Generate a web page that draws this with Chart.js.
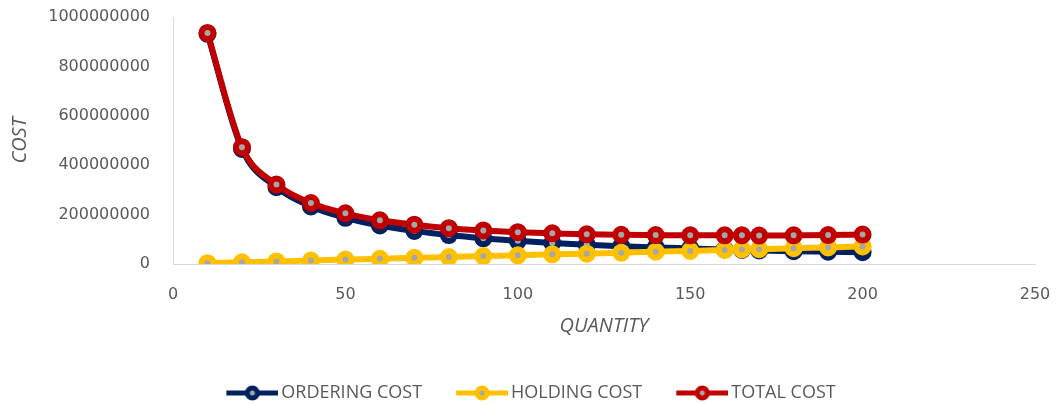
<!DOCTYPE html>
<html>
<head>
<meta charset="utf-8">
<title>Ordering / holding cost</title>
<script src="https://cdn.jsdelivr.net/npm/chart.js@4/dist/chart.umd.min.js"></script>
<style>
    html, body { margin: 0; padding: 0; background: #ffffff; overflow: hidden; }
    #wrap { width: 1058px; height: 405px; }
</style>
</head>
<body>
<div id="wrap"><canvas id="chart-cost" width="1058" height="405"></canvas></div>
<script>
/**
 * Order quantities on the x axis.
 * @type {number[]}
 */
const quantity = [10, 20, 30, 40, 50, 60, 70, 80, 90, 100, 110, 120, 130, 140, 150, 160, 165, 170, 180, 190, 200];

const orderingCost = [932000000, 466000000, 311000000, 233000000, 187000000, 156000000, 134000000, 117000000,
    104000000, 94000000, 85000000, 78000000, 72000000, 67000000, 63000000, 59000000, 57000000, 55000000,
    52000000, 50000000, 48000000];

const holdingCost = [3500000, 7000000, 10500000, 14000000, 18000000, 21000000, 25000000, 28000000, 32000000,
    35000000, 39000000, 42000000, 46000000, 50000000, 53000000, 57000000, 59000000, 60000000, 64000000,
    67000000, 71000000];

const totalCost = [935500000, 473000000, 321500000, 247000000, 205000000, 177000000, 159000000, 145000000,
    136000000, 129000000, 124000000, 120000000, 118000000, 117000000, 116000000, 116000000, 116000000,
    115000000, 116000000, 117000000, 119000000];

const xTicks = [0, 50, 100, 150, 200, 250];
const yTicks = [0, 200000000, 400000000, 600000000, 800000000, 1000000000];

const TEXT_COLOR = '#595959';
const AXIS_COLOR = '#d9d9d9';
const MARKER_FILL = '#a6a6a6';

/**
 * turns two arrays into {x, y} points for a linear x scale
 */
function toPoints(xs, ys) {
    return xs.map((x, i) => ({x: x, y: ys[i]}));
}

/**
 * draws the little "line with marker" picture used in the legend
 * @param color {string} series colour
 */
function legendMarker(color) {
    let c = document.createElement('canvas');
    c.width = 85;
    c.height = 20;
    let ctx = c.getContext('2d');
    ctx.strokeStyle = color;
    ctx.lineWidth = 5;
    ctx.beginPath();
    ctx.moveTo(33, 10);
    ctx.lineTo(85, 10);
    ctx.stroke();
    ctx.beginPath();
    ctx.arc(59, 10, 5, 0, Math.PI * 2);
    ctx.fillStyle = MARKER_FILL;
    ctx.fill();
    ctx.lineWidth = 5;
    ctx.stroke();
    return c;
}

function series(label, values, color, order) {
    return {
        label: label,
        data: toPoints(quantity, values),
        borderColor: color,
        backgroundColor: color,
        borderWidth: 6,
        pointRadius: 6,
        pointHoverRadius: 6,
        pointBorderWidth: 6,
        pointBorderColor: color,
        pointBackgroundColor: MARKER_FILL,
        cubicInterpolationMode: 'monotone',
        fill: false,
        order: order,
        markerImage: legendMarker(color)
    };
}

let chart = new Chart(document.getElementById('chart-cost'), {
    type: 'line',
    data: {
        datasets: [
            series('ORDERING COST', orderingCost, '#002060', 3),
            series('HOLDING COST', holdingCost, '#ffc000', 2),
            series('TOTAL COST', totalCost, '#c00000', 1)
        ]
    },
    options: {
        responsive: false,
        animation: false,
        devicePixelRatio: 1,
        layout: {
            padding: {left: 0, right: 23, top: 17, bottom: -7}
        },
        plugins: {
            tooltip: {enabled: false},
            legend: {
                position: 'bottom',
                align: 'center',
                labels: {
                    usePointStyle: true,
                    pointStyleWidth: 73,
                    padding: 7,
                    color: TEXT_COLOR,
                    font: {family: '"Open Sans"', size: 18},
                    generateLabels: function (c) {
                        return c.data.datasets.map((ds, i) => ({
                            text: ds.label,
                            fontColor: TEXT_COLOR,
                            fillStyle: ds.borderColor,
                            strokeStyle: ds.borderColor,
                            lineWidth: 0,
                            pointStyle: ds.markerImage,
                            hidden: false,
                            datasetIndex: i
                        }));
                    }
                }
            }
        },
        scales: {
            x: {
                type: 'linear',
                min: xTicks[0],
                max: xTicks[xTicks.length - 1],
                afterFit: (scale) => {
                    scale.height = 113;
                    // tick padding should not push the plot area in
                    scale.paddingLeft = 0;
                    scale.paddingRight = 0;
                },
                afterBuildTicks: (scale) => { scale.ticks = xTicks.map(v => ({value: v})); },
                grid: {display: false, drawTicks: false},
                border: {display: true, color: AXIS_COLOR, width: 1},
                ticks: {
                    padding: 21,
                    color: TEXT_COLOR,
                    font: {family: '"DejaVu Sans"', size: 16},
                    maxRotation: 0
                },
                title: {
                    display: true,
                    text: 'QUANTITY',
                    color: TEXT_COLOR,
                    font: {family: '"Open Sans"', size: 20, style: 'italic'},
                    padding: {top: 0, bottom: 39}
                }
            },
            y: {
                type: 'linear',
                min: yTicks[0],
                max: yTicks[yTicks.length - 1],
                afterFit: (scale) => {
                    scale.width = 173;
                    scale.paddingTop = 0;
                    scale.paddingBottom = 0;
                },
                afterBuildTicks: (scale) => { scale.ticks = yTicks.map(v => ({value: v})); },
                grid: {display: false, drawTicks: false},
                border: {display: true, color: AXIS_COLOR, width: 1},
                ticks: {
                    padding: 23,
                    color: TEXT_COLOR,
                    font: {family: '"DejaVu Sans"', size: 16},
                    callback: (v) => String(v)
                },
                title: {
                    display: true,
                    text: 'COST',
                    color: TEXT_COLOR,
                    font: {family: '"Open Sans"', size: 20, style: 'italic'},
                    padding: {top: 8, bottom: 0}
                }
            }
        }
    }
});
</script>
</body>
</html>
